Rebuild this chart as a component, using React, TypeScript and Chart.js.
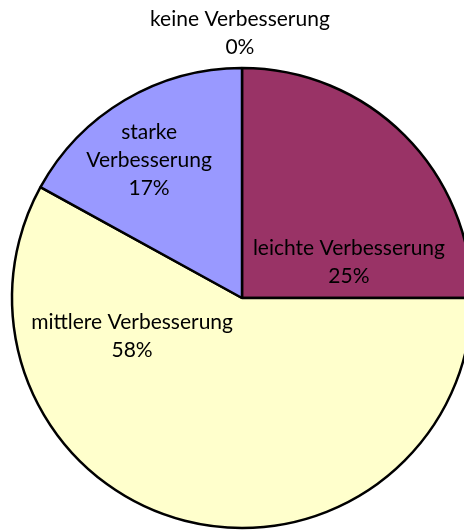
import React, { useEffect, useRef } from "react";
import { Chart, registerables } from "chart.js";

Chart.register(...registerables);

const categories = ["leichte Verbesserung", "mittlere Verbesserung", "starke Verbesserung", "keine Verbesserung"];
const values = [25, 58, 17, 0];
const colors = ["#993366", "#FFFFCC", "#9999FF", "#FFFFFF"];
const labelLines = [
  ["leichte Verbesserung", "25%"],
  ["mittlere Verbesserung", "58%"],
  ["starke", "Verbesserung", "17%"],
  ["keine Verbesserung", "0%"],
];
// label block centre offsets relative to the pie centre, as fractions of the radius
const labelOffsets = [
  [0.465, -0.157],
  [-0.478, 0.165],
  [-0.404, -0.6],
  [-0.009, -1.152],
];

const labelPlugin = {
  id: "pieLabels",
  afterDatasetsDraw(chart: any) {
    const meta = chart.getDatasetMeta(0);
    const arc = meta.data[0];
    if (!arc) return;
    const cx = arc.x;
    const cy = arc.y;
    const r = arc.outerRadius;
    const ctx = chart.ctx;
    ctx.save();
    ctx.font = "21px Lato";
    ctx.fillStyle = "#000";
    ctx.textAlign = "center";
    ctx.textBaseline = "middle";
    const lh = 28;
    labelLines.forEach((lines, i) => {
      const x = cx + labelOffsets[i][0] * r;
      const y = cy + labelOffsets[i][1] * r;
      const start = y - ((lines.length - 1) * lh) / 2;
      lines.forEach((t, j) => ctx.fillText(t, x, start + j * lh));
    });
    ctx.restore();
  },
};

export default function App() {
  const ref = useRef<HTMLCanvasElement>(null);
  useEffect(() => {
    if (!ref.current) return;
    const chart = new Chart(ref.current, {
      type: "pie",
      data: {
        labels: categories,
        datasets: [
          {
            data: values,
            backgroundColor: colors,
            borderColor: "#000",
            borderWidth: 2.5,
            radius: 230,
          },
        ],
      },
      options: {
        animation: false,
        responsive: false,
        layout: { padding: { left: 12, top: 68, right: 28, bottom: 2 } },
        plugins: { legend: { display: false }, tooltip: { enabled: false } },
      },
      plugins: [labelPlugin],
    });
    return () => chart.destroy();
  }, []);
  return (
    <div style={{ position: "absolute", left: 0, top: 0, width: 464, height: 530, overflow: "hidden", background: "#fff" }}>
      <canvas ref={ref} width={500} height={530} style={{ width: 500, height: 530 }} />
    </div>
  );
}
